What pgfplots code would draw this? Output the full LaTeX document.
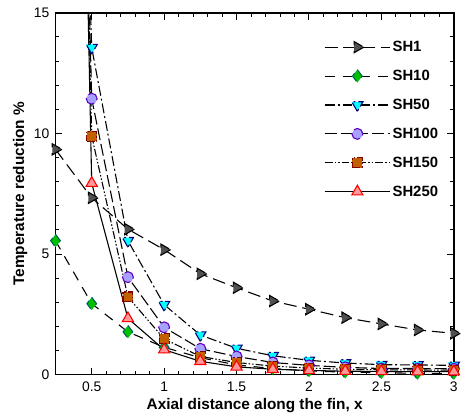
\documentclass[border=0pt]{standalone}
\usepackage{pgfplots}
\pgfplotsset{compat=1.18}
\usepackage{fontspec}
\setmainfont{Liberation Sans}
\definecolor{c1f}{HTML}{505050}
\definecolor{c10f}{HTML}{00C000}
\definecolor{c10e}{HTML}{006060}
\definecolor{c50f}{HTML}{00FFFF}
\definecolor{c50e}{HTML}{000080}
\definecolor{c100f}{HTML}{A8A0FF}
\definecolor{c100e}{HTML}{6000C0}
\definecolor{c150f}{HTML}{C06000}
\definecolor{c150e}{HTML}{800000}
\definecolor{c250f}{HTML}{FF9898}
\definecolor{c250e}{HTML}{FF0000}
\begin{document}
\begin{tikzpicture}
\begin{axis}[
  scale only axis,
  width=402pt, height=365pt,
  xmin=0.25, xmax=3, ymin=0, ymax=15,
  xtick={0.5,1,1.5,2,2.5,3},
  ytick={0,5,10,15},
  minor x tick num=4, minor y tick num=4,
  tick align=inside,
  major tick length=7pt, minor tick length=4pt,
  line width=1.8pt,
  every tick/.style={line width=1pt},
  tick label style={font=\fontsize{14}{16}\selectfont},
  yticklabel style={xshift=-2pt},
  xticklabel style={yshift=-3pt},
  /pgf/number format/assume math mode=true,
  xlabel={\bfseries Axial distance along the fin, x},
  ylabel={\bfseries Temperature reduction \%},
  label style={font=\fontsize{15.5}{17}\selectfont},
  xlabel style={yshift=1pt},
  ylabel style={yshift=-1pt},
  clip=true,
  legend cell align=left,
  legend style={draw=none, fill=none, at={(0.975,0.935)}, anchor=north east,
    font=\bfseries\fontsize{15}{17}\selectfont, row sep=13.2pt},
  legend image code/.code={
    \draw[mark repeat=2,mark phase=2,#1] plot coordinates {(0pt,0pt) (33pt,0pt) (66pt,0pt)};},
  every axis plot/.append style={line width=1.1pt, mark size=5.5pt, mark options={solid, line width=1pt}},
]
\addplot[black, dash pattern=on 13pt off 6pt, mark=triangle*, mark options={rotate=-90, fill=c1f, draw=black, mark size=6.5pt}]
coordinates {(0.25,9.34) (0.5,7.33) (0.75,6.03) (1.0,5.18) (1.25,4.18) (1.5,3.6) (1.75,3.05) (2.0,2.71) (2.25,2.36) (2.5,2.1) (2.75,1.85) (3.0,1.71)};
\addlegendentry{SH1}
\addplot[black, dash pattern=on 10pt off 8pt, mark=diamond*, mark options={fill=c10f, draw=c10e, mark size=6.5pt}]
coordinates {(0.25,5.55) (0.5,2.94) (0.75,1.77) (1.0,1.13) (1.25,0.7) (1.5,0.4) (1.75,0.25) (2.0,0.15) (2.25,0.1) (2.5,0.08) (2.75,0.05) (3.0,0.05)};
\addlegendentry{SH10}
\addplot[black, dash pattern=on 10pt off 3pt on 2pt off 3pt, mark=triangle*, mark options={rotate=180, fill=c50f, draw=c50e, mark size=6.5pt}]
coordinates {(0.25,60) (0.5,13.56) (0.75,5.55) (1.0,2.9) (1.25,1.64) (1.5,1.09) (1.75,0.78) (2.0,0.59) (2.25,0.48) (2.5,0.41) (2.75,0.40) (3.0,0.38)};
\addlegendentry{SH50}
\addplot[black, dash pattern=on 12pt off 4pt, mark=*, mark options={fill=c100f, draw=c100e}]
coordinates {(0.25,70) (0.5,11.44) (0.75,4.04) (1.0,1.96) (1.25,1.07) (1.5,0.75) (1.75,0.5) (2.0,0.38) (2.25,0.3) (2.5,0.25) (2.75,0.25) (3.0,0.24)};
\addlegendentry{SH100}
\addplot[black, dash pattern=on 8pt off 2pt on 1.5pt off 2pt on 1.5pt off 2pt, mark=square*, mark options={fill=c150f, draw=c150e, mark size=5pt}]
coordinates {(0.25,75) (0.5,9.89) (0.75,3.22) (1.0,1.48) (1.25,0.75) (1.5,0.5) (1.75,0.35) (2.0,0.27) (2.25,0.22) (2.5,0.2) (2.75,0.19) (3.0,0.18)};
\addlegendentry{SH150}
\addplot[black, solid, mark=triangle*, mark options={fill=c250f, draw=c250e, mark size=6.5pt}]
coordinates {(0.25,80) (0.5,7.94) (0.75,2.33) (1.0,1.03) (1.25,0.55) (1.5,0.32) (1.75,0.22) (2.0,0.17) (2.25,0.14) (2.5,0.13) (2.75,0.12) (3.0,0.12)};
\addlegendentry{SH250}
\end{axis}
\path ([yshift=13pt]current axis.north) ([xshift=-56pt,yshift=-37pt]current axis.south west);
\end{tikzpicture}
\end{document}
